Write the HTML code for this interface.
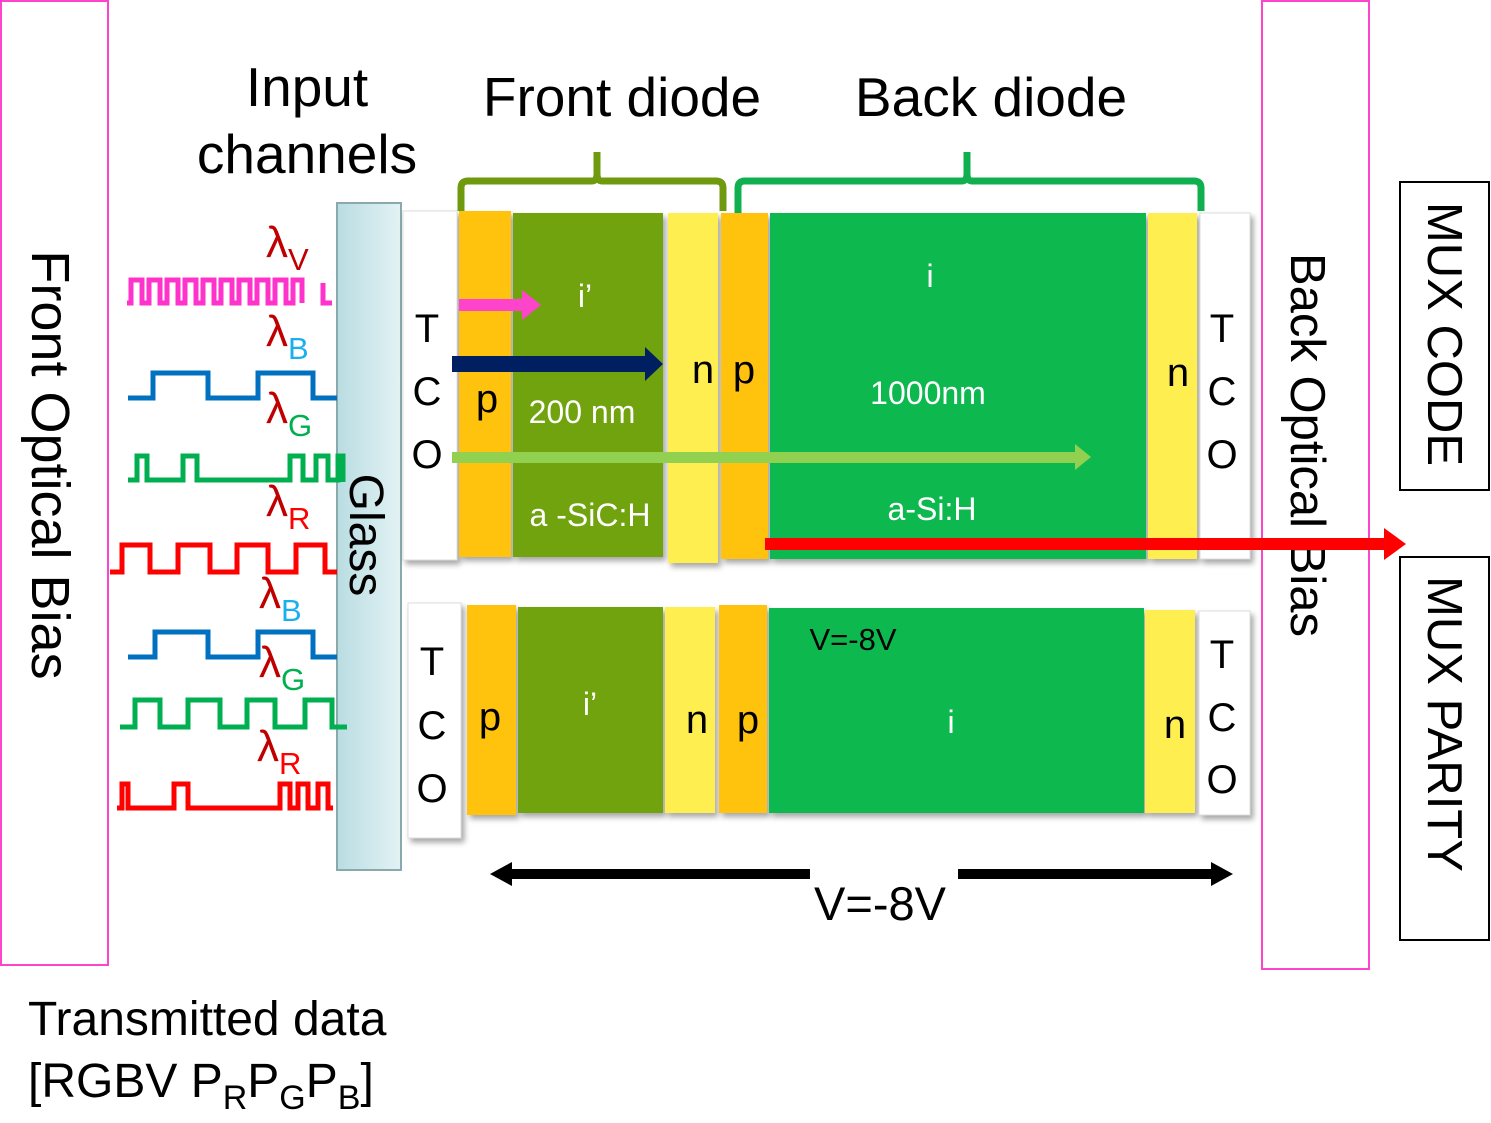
<!DOCTYPE html>
<html><head><meta charset="utf-8"><style>
html,body{margin:0;padding:0;background:#fff;}
svg{display:block;font-family:"Liberation Sans",Arial,sans-serif;}
</style></head><body>
<svg width="1491" height="1123" viewBox="0 0 1491 1123" xmlns="http://www.w3.org/2000/svg">
<defs>
<linearGradient id="glass" x1="0" x2="1" y1="0" y2="0"><stop offset="0" stop-color="#b9dde2"/><stop offset="1" stop-color="#e3f2f4"/></linearGradient>
<filter id="sh" x="-10%" y="-10%" width="130%" height="130%"><feDropShadow dx="3" dy="4" stdDeviation="3" flood-color="#000" flood-opacity="0.35"/></filter>
</defs>

<rect x="1" y="1" width="107" height="964" fill="none" stroke="#ff44cc" stroke-width="2"/>
<rect x="1262" y="1" width="107" height="968" fill="none" stroke="#ff44cc" stroke-width="2"/>
<text transform="translate(32,465) rotate(90)" font-size="54" text-anchor="middle">Front Optical Bias</text>
<text transform="translate(1291,445) rotate(90)" font-size="49" text-anchor="middle">Back Optical Bias</text>

<rect x="1400" y="182" width="89" height="308" fill="#fff" stroke="#000" stroke-width="2"/>
<rect x="1400" y="557" width="89" height="383" fill="#fff" stroke="#000" stroke-width="2"/>
<text transform="translate(1428,334) rotate(90)" font-size="49" text-anchor="middle">MUX CODE</text>
<text transform="translate(1428,724) rotate(90)" font-size="49" text-anchor="middle">MUX PARITY</text>

<text x="307" y="106" font-size="55" text-anchor="middle">Input</text>
<text x="307" y="173" font-size="55" text-anchor="middle">channels</text>
<text x="622" y="116" font-size="55" text-anchor="middle">Front diode</text>
<text x="991" y="116" font-size="55" text-anchor="middle">Back diode</text>

<path d="M461,211 V188 Q461,181 468,181 H592 Q597,181 597,174 V152 M597,174 Q597,181 602,181 H716 Q723,181 723,188 V211" fill="none" stroke="#6f9a0e" stroke-width="7"/>
<path d="M738,213 V188 Q738,181 745,181 H962 Q967,181 967,174 V152 M967,174 Q967,181 972,181 H1194 Q1201,181 1201,188 V211" fill="none" stroke="#10b050" stroke-width="7"/>

<rect x="337" y="203" width="64" height="667" fill="url(#glass)" stroke="#8aa9ad" stroke-width="2"/>
<text transform="translate(350,535) rotate(90)" font-size="48" text-anchor="middle">Glass</text>

<g filter="url(#sh)">
<rect x="403" y="211" width="54" height="349" fill="#fff" stroke="#ddd"/>
<rect x="459" y="211" width="52" height="346" fill="#ffc20e"/>
<rect x="513" y="213" width="150" height="344" fill="#70a30a"/>
<rect x="668" y="213" width="50" height="350" fill="#ffee50"/>
<rect x="721" y="213" width="47" height="346" fill="#ffc20e"/>
<rect x="770" y="213" width="376" height="346" fill="#0ab850"/>
<rect x="1148" y="213" width="49" height="346" fill="#ffee50"/>
<rect x="1200" y="213" width="50" height="346" fill="#fff" stroke="#ddd"/>
</g>
<g filter="url(#sh)">
<rect x="408" y="603" width="53" height="235" fill="#fff" stroke="#ddd"/>
<rect x="467" y="605" width="49" height="210" fill="#ffc20e"/>
<rect x="518" y="607" width="145" height="206" fill="#70a30a"/>
<rect x="665" y="607" width="50" height="206" fill="#ffee50"/>
<rect x="719" y="605" width="48" height="208" fill="#ffc20e"/>
<rect x="769" y="608" width="375" height="205" fill="#0ab850"/>
<rect x="1145" y="610" width="50" height="203" fill="#ffee50"/>
<rect x="1199" y="611" width="51" height="204" fill="#fff" stroke="#ddd"/>
</g>

<g font-size="40" text-anchor="middle">
<text x="427" y="342">T</text><text x="427" y="405">C</text><text x="427" y="468">O</text>
<text x="1222" y="342">T</text><text x="1222" y="405">C</text><text x="1222" y="468">O</text>
<text x="487" y="412">p</text><text x="703" y="383">n</text><text x="744" y="383">p</text><text x="1178" y="386">n</text>
</g>
<g font-size="32" fill="#fff" text-anchor="middle">
<text x="585" y="307">i’</text><text x="582" y="423">200 nm</text><text x="590" y="526">a -SiC:H</text>
<text x="930" y="287">i</text><text x="928" y="404">1000nm</text><text x="932" y="520">a-Si:H</text>
<text x="590" y="715">i’</text><text x="951" y="733">i</text>
</g>
<g font-size="40" text-anchor="middle">
<text x="432" y="675">T</text><text x="432" y="739">C</text><text x="432" y="802">O</text>
<text x="1222" y="668">T</text><text x="1222" y="731">C</text><text x="1222" y="793">O</text>
<text x="490" y="730">p</text><text x="697" y="733">n</text><text x="748" y="733">p</text><text x="1175" y="738">n</text>
</g>
<text x="853" y="650" font-size="31" text-anchor="middle">V=-8V</text>

<path d="M459,299 H522 V290 L541,305 L522,320 V311 H459 Z" fill="#ff44cc"/>
<path d="M452,356 H645 V347 L663,364 L645,381 V372 H452 Z" fill="#001f60"/>
<path d="M452,452 H1075 V444 L1091,457 L1075,470 V463 H452 Z" fill="#92d050"/>
<path d="M765,538 H1384 V528 L1406,544 L1384,560 V550 H765 Z" fill="#ff0000"/>

<path d="M508,869 H810 V879 H508 Z M958,869 H1215 V879 H958 Z" fill="#000"/>
<path d="M490,874 L512,862 V886 Z M1233,874 L1211,862 V886 Z" fill="#000"/>
<text x="880" y="920" font-size="47" text-anchor="middle">V=-8V</text>

<g fill="none" stroke-width="5" stroke-linejoin="miter">
<path stroke="#ff33cc" d="M127,303 H131 V280 H142 V303 H149 V280 H160 V303 H167 V280 H178 V303 H185 V280 H196 V303 H203 V280 H214 V303 H221 V280 H232 V303 H239 V280 H250 V303 H257 V280 H268 V303 H275 V280 H286 V303 H293 V280 H302 V303 M323,283 V303 H332"/>
<path stroke="#0070c0" d="M128,398 H153 V373 H208 V398 H258 V373 H313 V398 H337"/>
<path stroke="#00b050" d="M128,480 H137 V456 H147 V480 H183 V456 H197 V480 H290 V456 H303 V480 H316 V456 H328 V480 H338 V456 H343 V482"/>
<path stroke="#ff0000" d="M110,572 H122 V545 H150 V572 H178 V545 H210 V572 H237 V545 H268 V572 H296 V545 H325 V572 H337"/>
<path stroke="#0070c0" d="M128,657 H155 V632 H208 V657 H258 V632 H313 V657 H337"/>
<path stroke="#00b050" d="M120,727 H135 V700 H160 V727 H188 V700 H220 V727 H247 V700 H275 V727 H305 V700 H332 V727 H347"/>
<path stroke="#ff0000" d="M117,808 H122 V784 H128 V808 H174 V784 H188 V808 H280 V784 H290 V808 H298 V784 H308 V808 H318 V784 H328 V808 H333"/>
</g>
<g font-size="44" fill="#c00000">
<text x="266" y="257">λ<tspan font-size="31" dy="13">V</tspan></text>
<text x="266" y="346">λ<tspan font-size="31" fill="#1ab0f0" dy="13">B</tspan></text>
<text x="266" y="423">λ<tspan font-size="31" fill="#00b050" dy="13">G</tspan></text>
<text x="266" y="516">λ<tspan font-size="31" fill="#ff0000" dy="13">R</tspan></text>
<text x="259" y="608">λ<tspan font-size="31" fill="#1ab0f0" dy="13">B</tspan></text>
<text x="259" y="677">λ<tspan font-size="31" fill="#00b050" dy="13">G</tspan></text>
<text x="257" y="761">λ<tspan font-size="31" fill="#ff0000" dy="13">R</tspan></text>
</g>

<text x="28" y="1035" font-size="48">Transmitted data</text>
<text x="28" y="1097" font-size="48">[RGBV P<tspan font-size="34" dy="12">R</tspan><tspan dy="-12">P</tspan><tspan font-size="34" dy="12">G</tspan><tspan dy="-12">P</tspan><tspan font-size="34" dy="12">B</tspan><tspan dy="-12">]</tspan></text>
</svg>
</body></html>
